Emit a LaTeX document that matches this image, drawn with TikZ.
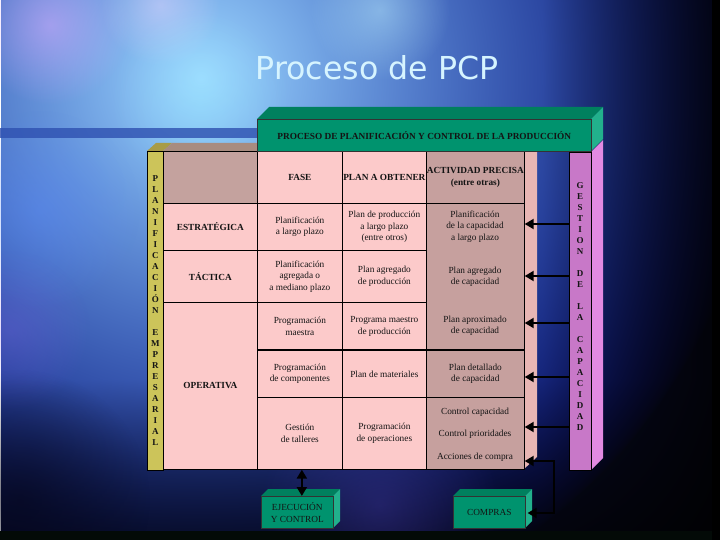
\documentclass[tikz,border=0pt]{standalone}
\usepackage{fontspec}
\setmainfont{Liberation Serif}
\newfontfamily\titlefont{DejaVu Sans}
\usetikzlibrary{arrows.meta,fadings,calc}
\tikzfading[name=softblob, inner color=transparent!0, outer color=transparent!100]
\definecolor{pinkcell}{HTML}{FCCACA}
\definecolor{browncell}{HTML}{C6A09E}
\definecolor{headbrown}{HTML}{C4A29E}
\definecolor{pinkside}{HTML}{E8B6B4}
\definecolor{yellowcol}{HTML}{CCC45A}
\definecolor{yellowtop}{HTML}{A89C48}
\definecolor{tabletop}{HTML}{A88C80}
\definecolor{purplecol}{HTML}{C878C8}
\definecolor{purpleside}{HTML}{E28AE2}
\definecolor{greenfront}{HTML}{00936E}
\definecolor{greentop}{HTML}{00805E}
\definecolor{greenside}{HTML}{22B08C}
\definecolor{titlecol}{HTML}{D6F4FF}
\definecolor{inkcol}{HTML}{141414}
\definecolor{bandcol}{HTML}{2E50B0}
\definecolor{bottomstrip}{HTML}{030A07}
\pgfdeclarefunctionalshading{bgfun}{\pgfpoint{0bp}{0bp}}{\pgfpoint{720bp}{540bp}}{}{
2 copy
160 exch sub 150 div dup 0 lt {pop 0} if dup 1 gt {pop 1} if 0.6 mul 1 exch sub
exch
540 sub 170 div dup 0 lt {pop 0} if dup 1 gt {pop 1} if 0.75 mul 1 exch sub
mul
3 1 roll
460 sub dup mul exch 200 sub dup mul add sqrt 560 div 1 exch sub dup 0 lt {pop 0} if
dup 1.46 exp 0.59 mul 0.03 add
exch dup 1.25 exp 0.81 mul 0.04 add
exch 0.57 exp 0.86 mul 0.14 add
3 index mul
exch 3 index mul exch
3 -1 roll 3 index mul 3 1 roll
4 -1 roll pop
}
\begin{document}
\begin{tikzpicture}[x=1pt,y=-1pt,
  cellbox/.style={anchor=north west, draw=black, line width=0.7pt, fill=pinkcell, inner sep=0pt, align=center, text=inkcol, font=\fontsize{9.3}{11.5}\selectfont},
  hb/.style={font=\fontsize{9.3}{11.5}\selectfont\bfseries},
  txt/.style={inner sep=0pt, align=center, text=inkcol, font=\fontsize{9.3}{11.5}\selectfont},
  vtext/.style={inner sep=0pt, align=center, text=inkcol, font=\fontsize{9}{11}\selectfont\bfseries},
  greenbox/.style={anchor=north west, draw=black!80, line width=0.6pt, fill=greenfront, inner sep=0pt, align=center, text=inkcol, font=\fontsize{9.3}{11.5}\selectfont},
  arr/.style={line width=2pt, -{Triangle[length=9pt,width=10pt]}},
  darr/.style={line width=2pt, {Triangle[length=9pt,width=10pt]}-{Triangle[length=9pt,width=10pt]}},
  blob/.style={path fading=softblob}
]
\useasboundingbox (0,0) rectangle (720,540);
% ---------- background ----------
\begin{scope}
\clip (0,0) rectangle (720,540);
\node[inner sep=0pt, anchor=south west] (bg) at (0,540) {\pgfuseshading{bgfun}};
\fill[blob, color={rgb,255:red,214;green,170;blue,255}, opacity=.55] (50,25) circle (80);
\fill[blob, color={rgb,255:red,235;green,215;blue,255}, opacity=.45] (160,5) circle (60);
\fill[blob, color={rgb,255:red,190;green,240;blue,255}, opacity=.45] (380,10) circle (70);
\fill[blob, color={rgb,255:red,150;green,235;blue,255}, opacity=.35] (200,100) circle (90);
\fill[blob, color={rgb,255:red,90;green,140;blue,250}, opacity=.45] (40,210) circle (100);
\fill[blob, color={rgb,255:red,140;green,100;blue,240}, opacity=.25] (10,330) circle (80);
\fill[blob, color={rgb,255:red,5;green,6;blue,26}, opacity=.6] (20,500) circle (130);
\fill[blob, color={rgb,255:red,70;green,60;blue,170}, opacity=.4] (380,505) circle (120);
\fill[bandcol, opacity=.8] (0,128) rectangle (257,138);
\fill[bottomstrip] (0,531) rectangle (720,540);
\fill[black] (712,0) rectangle (720,540);
\end{scope}
% ---------- title ----------
\node[font=\titlefont\fontsize{31.6}{36}\selectfont, text=titlecol, inner sep=0pt] (title) at (377,68) {Proceso de PCP};
% ---------- left panel faces ----------
\fill[yellowtop] (147,151) -- (156,143) -- (172,143) -- (163,151) -- cycle;
\fill[tabletop] (163,151) -- (172,143) -- (270,143) -- (257,151) -- cycle;
\fill[pinkside] (524,151) -- (537,151) -- (537,457) -- (524,469) -- cycle;
% yellow column
\node[anchor=north west, draw=black, line width=0.6pt, fill=yellowcol, minimum width=16, minimum height=319, inner sep=0pt] (plan) at (147,151) {};
\node[vtext] (plantxt) at (plan.center) {P\\L\\A\\N\\I\\F\\I\\C\\A\\C\\I\\Ó\\N\\[11pt]E\\M\\P\\R\\E\\S\\A\\R\\I\\A\\L};
% ---------- table ----------
\node[cellbox, fill=headbrown, minimum width=94, minimum height=52] (c1h) at (163,151) {};
\node[cellbox, hb, minimum width=94, minimum height=47] (c1e) at (163,203) {ESTRATÉGICA};
\node[cellbox, hb, minimum width=94, minimum height=52] (c1t) at (163,250) {TÁCTICA};
\node[cellbox, hb, minimum width=94, minimum height=167] (c1o) at (163,302) {OPERATIVA};
\node[cellbox, hb, minimum width=85, minimum height=52] (c2h) at (257,151) {FASE};
\node[cellbox, minimum width=85, minimum height=47] (c2a) at (257,203) {Planificación\\a largo plazo};
\node[cellbox, minimum width=85, minimum height=52] (c2b) at (257,250) {Planificación\\agregada o\\a mediano plazo};
\node[cellbox, minimum width=85, minimum height=48] (c2c) at (257,302) {Programación\\maestra};
\node[cellbox, minimum width=85, minimum height=47] (c2d) at (257,350) {Programación\\de componentes};
\node[cellbox, minimum width=85, minimum height=72] (c2e) at (257,397) {Gestión\\de talleres};
\node[cellbox, hb, minimum width=84, minimum height=52] (c3h) at (342,151) {PLAN A OBTENER};
\node[cellbox, minimum width=84, minimum height=47] (c3a) at (342,203) {Plan de producción\\a largo plazo\\(entre otros)};
\node[cellbox, minimum width=84, minimum height=52] (c3b) at (342,250) {Plan agregado\\de producción};
\node[cellbox, minimum width=84, minimum height=48] (c3c) at (342,302) {Programa maestro\\de producción};
\node[cellbox, minimum width=84, minimum height=47] (c3d) at (342,350) {Plan de materiales};
\node[cellbox, minimum width=84, minimum height=72] (c3e) at (342,397) {Programación\\de operaciones};
\node[cellbox, hb, fill=browncell, minimum width=98, minimum height=52] (c4h) at (426,151) {ACTIVIDAD PRECISA\\(entre otras)};
\node[cellbox, fill=browncell, minimum width=98, minimum height=147] (c4a) at (426,203) {};
\node[cellbox, fill=browncell, minimum width=98, minimum height=47] (c4d) at (426,350) {Plan detallado\\de capacidad};
\node[cellbox, fill=browncell, minimum width=98, minimum height=72] (c4e) at (426,397) {};
\node[txt] (t4a) at (475,226.5) {Planificación\\de la capacidad\\a largo plazo};
\node[txt] (t4b) at (475,277) {Plan agregado\\de capacidad};
\node[txt] (t4c) at (475,326) {Plan aproximado\\de capacidad};
\node[txt] (t4e1) at (475,412) {Control capacidad};
\node[txt] (t4e2) at (475,434) {Control prioridades};
\node[txt] (t4e3) at (475,457) {Acciones de compra};
\draw[line width=1.6pt] (c2h.south west) -- (c3h.south east);
\draw[line width=1.4pt] (c2d.north west) -- (c4d.north east);
% ---------- purple column ----------
\fill[purpleside] (591,152) -- (603,140) -- (603,458) -- (591,470) -- cycle;
\node[anchor=north west, draw=black, line width=0.6pt, fill=purplecol, minimum width=22, minimum height=318, inner sep=0pt] (gest) at (569,152) {};
\node[vtext] (gesttxt) at (580,307) {G\\E\\S\\T\\I\\O\\N\\[11pt]D\\E\\[11pt]L\\A\\[11pt]C\\A\\P\\A\\C\\I\\D\\A\\D};
% ---------- header 3D box ----------
\fill[greentop] (257,119) -- (269,107) -- (603,107) -- (591,119) -- cycle;
\fill[greenside] (591,119) -- (603,107) -- (603,139) -- (591,151) -- cycle;
\node[greenbox, hb, minimum width=334, minimum height=32] (hdr) at (257,119) {PROCESO DE PLANIFICACIÓN Y CONTROL DE LA PRODUCCIÓN};
% ---------- bottom boxes ----------
\fill[greentop] (261,496) -- (268,489) -- (340,489) -- (333,496) -- cycle;
\fill[greenside] (333,496) -- (340,489) -- (340,521) -- (333,528) -- cycle;
\node[greenbox, minimum width=72, minimum height=32] (ej) at (261,496) {EJECUCIÓN\\Y CONTROL};
\fill[greentop] (453,496) -- (460,489) -- (532,489) -- (525,496) -- cycle;
\fill[greenside] (525,496) -- (532,489) -- (532,521) -- (525,528) -- cycle;
\node[greenbox, minimum width=72, minimum height=32] (co) at (453,496) {COMPRAS};
% ---------- connectors ----------
\draw[arr] (gest.west |- 0,224) -- (c4a.east |- 0,224);
\draw[arr] (gest.west |- 0,276) -- (c4a.east |- 0,276);
\draw[arr] (gest.west |- 0,323) -- (c4a.east |- 0,323);
\draw[arr] (gest.west |- 0,377) -- (c4d.east |- 0,377);
\draw[arr] (gest.west |- 0,427) -- (c4e.east |- 0,427);
\coordinate (jn) at (554,461);
\draw[darr] (c4e.east |- jn) -- (jn) -- (jn |- 0,513) -- ([xshift=2pt]co.east |- 0,513);
\draw[darr, line width=2.6pt] ([xshift=2pt]c2e.south) -- ([xshift=2pt]c2e.south |- ej.north);
\end{tikzpicture}
\end{document}
